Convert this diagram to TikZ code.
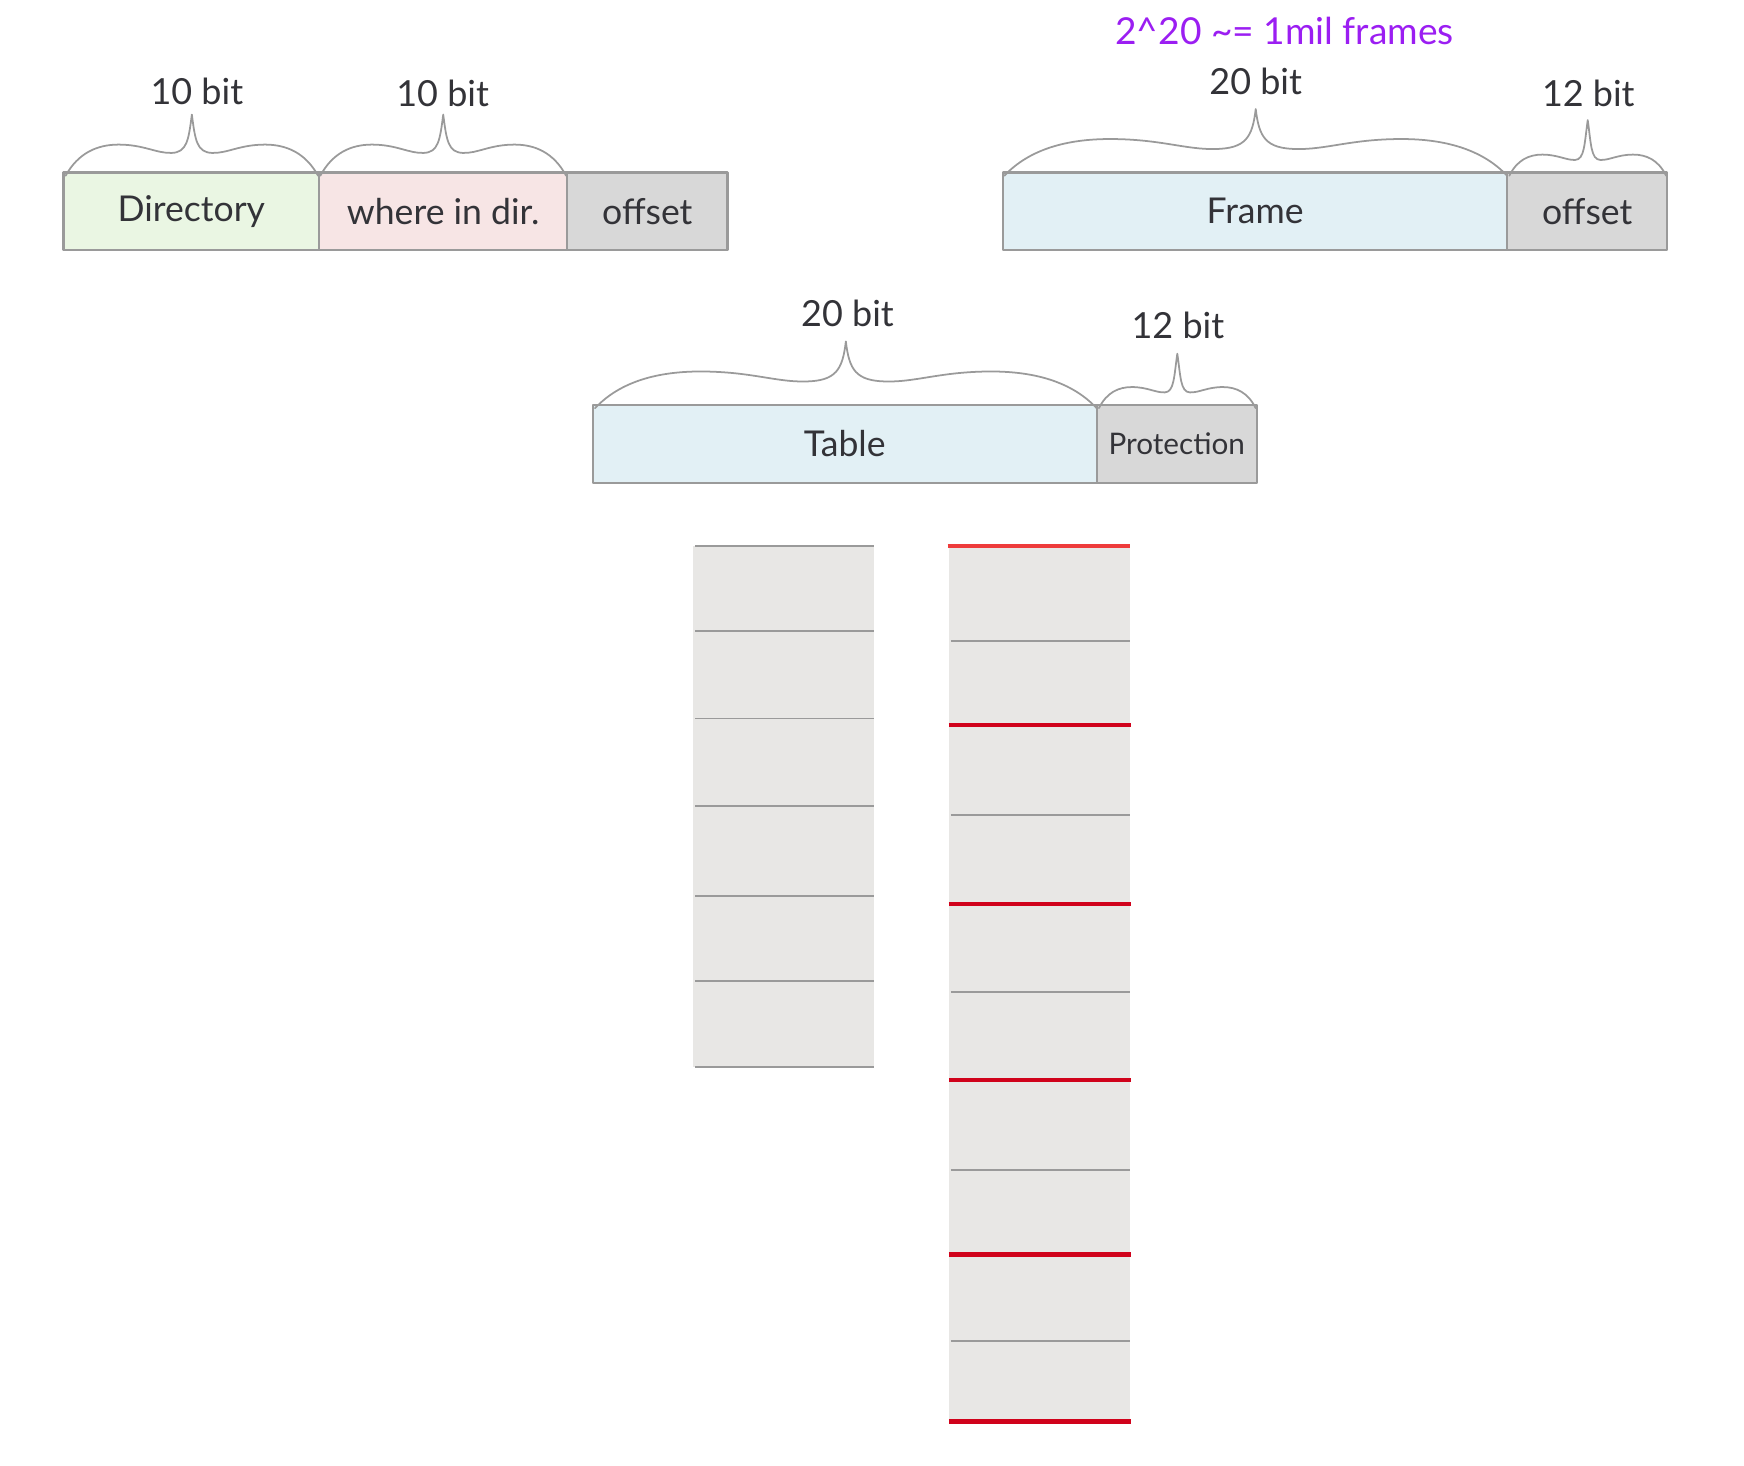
\documentclass[tikz,border=0pt]{standalone}
\usepackage{fontspec}
\setmainfont{Lato}
\usepackage{xcolor}
\usetikzlibrary{positioning}

\definecolor{boxgray}{HTML}{9A9A9A}
\definecolor{txtgray}{HTML}{333338}
\definecolor{dirgreen}{HTML}{EAF6E3}
\definecolor{wherepink}{HTML}{F7E5E5}
\definecolor{frameblue}{HTML}{E2F0F5}
\definecolor{offgray}{HTML}{D8D8D8}
\definecolor{stackgray}{HTML}{E8E7E5}
\definecolor{entryred}{HTML}{D0021B}
\definecolor{topred}{HTML}{EE3B3B}
\definecolor{countpurple}{HTML}{9B1EF2}

% curly brace over a field: left x, right x, base y, tip height, hump height
\newcommand{\bitbrace}[5]{%
  \pgfmathsetmacro{\bracehw}{(#2-#1)/2}
  \draw[brace] ({#1},{#3+3})
    .. controls ({#1+0.1*\bracehw},{#3-0.7*#5}) and ({#1+0.25*\bracehw},{#3-#5}) .. ({#1+0.42*\bracehw},{#3-#5})
    .. controls ({#1+0.62*\bracehw},{#3-#5}) and ({#1+0.72*\bracehw},{#3-0.68*#5}) .. ({#1+0.84*\bracehw},{#3-0.7*#5})
    .. controls ({#1+0.96*\bracehw},{#3-0.72*#5}) and ({#1+\bracehw-3},{#3-0.55*#4}) .. ({#1+\bracehw},{#3-#4})
    .. controls ({#2-\bracehw+3},{#3-0.55*#4}) and ({#2-0.96*\bracehw},{#3-0.72*#5}) .. ({#2-0.84*\bracehw},{#3-0.7*#5})
    .. controls ({#2-0.72*\bracehw},{#3-0.68*#5}) and ({#2-0.62*\bracehw},{#3-#5}) .. ({#2-0.42*\bracehw},{#3-#5})
    .. controls ({#2-0.25*\bracehw},{#3-#5}) and ({#2-0.1*\bracehw},{#3-0.7*#5}) .. ({#2},{#3+3});
}

\begin{document}
\begin{tikzpicture}[x=0.1mm, y=-0.1mm, line join=round, line cap=round,
    field/.style={draw=boxgray, line width=0.6pt, minimum height=7mm, inner sep=0pt,
      outer sep=0pt, text=txtgray, font=\fontsize{9.1}{11}\selectfont},
    bitlabel/.style={text=txtgray, inner sep=0pt, font=\fontsize{9.2}{11}\selectfont},
    brace/.style={draw=boxgray, line width=0.45pt},
    rowline/.style={draw=boxgray, line width=0.5pt, line cap=butt},
    frameline/.style={draw=entryred, line width=1.1pt, line cap=butt}]

    \useasboundingbox (0,0) rectangle (1568,1318);

    % Two level address
    \node[field, fill=dirgreen, minimum width=23mm, anchor=north west] (dir) at (57,155) {Directory};
    \node[field, fill=wherepink, minimum width=22.3mm, right=0pt of dir] (where) {where in dir.};
    \node[field, fill=offgray, minimum width=14.4mm, right=0pt of where] (diroff) {offset};

    \bitbrace{59}{286}{155}{52}{25}
    \bitbrace{288}{509}{155}{52}{25}
    \node[bitlabel] (dirbits) at (177,82) {10 bit};
    \node[bitlabel] (wherebits) at (398,84) {10 bit};

    % Frame address
    \node[field, fill=frameblue, minimum width=45.3mm, anchor=north west] (frame) at (902,155) {Frame};
    \node[field, fill=offgray, minimum width=14.4mm, right=0pt of frame] (frameoff) {offset};

    \bitbrace{903}{1355}{155}{57}{30}
    \bitbrace{1357}{1498}{155}{47}{16}
    \node[bitlabel] (framebits) at (1129,73) {20 bit};
    \node[bitlabel] (offbits) at (1428,84) {12 bit};
    \node[bitlabel, text=countpurple, font=\fontsize{9.5}{11}\selectfont] (framecount) at (1155,28) {2\textasciicircum{}20 \textasciitilde{}= 1mil frames};

    % Table entry
    \node[field, fill=frameblue, minimum width=45.3mm, anchor=north west] (table) at (533,364) {Table};
    \node[field, fill=offgray, minimum width=14.4mm, right=0pt of table,
      font=\fontsize{7.6}{9}\selectfont] (prot) {Protection};

    \bitbrace{535}{986}{364}{57}{30}
    \bitbrace{988}{1129}{364}{46}{16}
    \node[bitlabel] (tablebits) at (762,282) {20 bit};
    \node[bitlabel] (protbits) at (1059,293) {12 bit};

    % Table stack
    \fill[stackgray] (623,491) rectangle (786,959);
    \foreach \y in {491,567,646,725,806,882,959}
      \draw[rowline] (625,\y) -- (786,\y);

    % Frame stack
    \fill[stackgray] (853,491) rectangle (1016,1278);
    \foreach \y in {576,733,892,1052,1206}
      \draw[rowline] (855,\y) -- (1016,\y);
    \foreach \y in {652,813,971,1128,1278}
      \draw[frameline] (853,\y) -- (1017,\y);
    \draw[frameline, draw=topred] (852,491) -- (1016,491);

\end{tikzpicture}
\end{document}
